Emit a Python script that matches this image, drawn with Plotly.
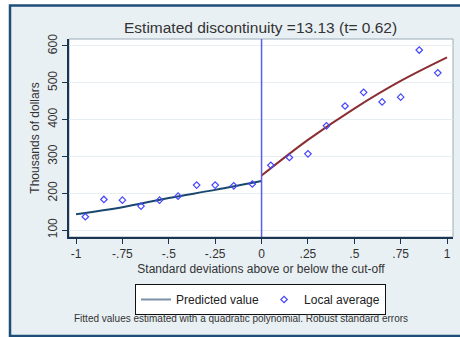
import plotly.graph_objects as go

# ---- data ----
bins_left = [-0.95, -0.85, -0.75, -0.65, -0.55, -0.45, -0.35, -0.25, -0.15, -0.05]
avg_left = [136, 183, 181, 165, 181, 192, 222, 222, 220, 225]
bins_right = [0.05, 0.15, 0.25, 0.35, 0.45, 0.55, 0.65, 0.75, 0.85, 0.95]
avg_right = [276, 297, 307, 383, 437, 474, 448, 461, 589, 527]

fit_x_left = [-1.0, -0.75, -0.5, -0.25, 0.0]
fit_y_left = [143, 162, 187, 209, 233]
fit_x_right = [0.0, 0.25, 0.5, 0.75, 1.0]
fit_y_right = [248, 345, 430, 505, 569]

cutoff = 0
x_tickvals = [-1, -0.75, -0.5, -0.25, 0, 0.25, 0.5, 0.75, 1]
x_ticktext = ["-1", "-.75", "-.5", "-.25", "0", ".25", ".5", ".75", "1"]
y_tickvals = [100, 200, 300, 400, 500, 600]

title_text = "Estimated discontinuity =13.13 (t= 0.62)"
note_text = "Fitted values estimated with a quadratic polynomial. Robust standard errors"

FONT = "Liberation Sans, Arial, sans-serif"
NAVY = "#1a476f"
MAROON = "#8b2e33"
MARK = "#4646ff"

fig = go.Figure()

fig.add_trace(go.Scatter(x=fit_x_left, y=fit_y_left, mode="lines", line=dict(color=NAVY, width=2, shape="spline"),
                         showlegend=False, hoverinfo="skip"))
fig.add_trace(go.Scatter(x=fit_x_right, y=fit_y_right, mode="lines", line=dict(color=MAROON, width=2, shape="spline"),
                         showlegend=False, hoverinfo="skip"))
fig.add_trace(go.Scatter(x=[None], y=[None], mode="lines", line=dict(color="#7a90a6", width=2),
                         name="Predicted value"))
fig.add_trace(go.Scatter(x=bins_left + bins_right, y=avg_left + avg_right, mode="markers",
                         marker=dict(symbol="diamond-open", size=5, color=MARK, line=dict(width=1.2, color=MARK)),
                         name="Local average"))

# vertical cut-off line
fig.add_shape(type="line", xref="x", yref="paper", x0=cutoff, x1=cutoff, y0=0, y1=1,
              line=dict(color="#5b5bf0", width=1.5), layer="above")

# plot area geometry in px
L, R, T, B = 69, 453, 39, 237
W, H = R - L, B - T
def px(x):
    return (x - L) / W
def py(y):
    return (B - y) / H

# outer frame
fig.add_shape(type="rect", xref="paper", yref="paper", x0=px(10), x1=px(470), y0=py(336), y1=py(5.5),
              fillcolor="#e9f0f3", line=dict(color="#1f4e79", width=2.5), layer="below")
# plot region
fig.add_shape(type="rect", xref="paper", yref="paper", x0=0, x1=1, y0=0, y1=1,
              fillcolor="white", line=dict(color="#9aabb9", width=1), layer="below")

fig.add_annotation(text=title_text, xref="paper", yref="paper", x=px(260), y=py(27), showarrow=False,
                   font=dict(family=FONT, size=15.5, color="#333333"), xanchor="center", yanchor="middle")
fig.add_annotation(text=note_text, xref="paper", yref="paper", x=px(240.5), y=py(318.5), showarrow=False,
                   font=dict(family=FONT, size=10, color="#333333"), xanchor="center", yanchor="middle")

fig.update_layout(
    width=460, height=337,
    margin=dict(l=L, r=460 - R, t=T, b=337 - B, autoexpand=False),
    paper_bgcolor="white", plot_bgcolor="white",
    font=dict(family=FONT, color="#333333"),
    showlegend=True,
    legend=dict(orientation="h", x=px(260.5), xanchor="center", y=py(284), yanchor="top",
                bgcolor="white", bordercolor="#111111", borderwidth=1, tracegroupgap=0,
                font=dict(family=FONT, size=12, color="#222222"), itemwidth=30),
    xaxis=dict(range=[-1.038, 1.032], tickvals=x_tickvals, ticktext=x_ticktext, showgrid=False,
               zeroline=False, showline=True, linecolor="#1a3550", linewidth=1.5, automargin=False,
               ticks="outside", ticklen=5, tickcolor="#1a3550", tickfont=dict(size=12, color="#333333"),
               title=dict(text="Standard deviations above or below the cut-off", font=dict(size=12, color="#333333"), standoff=4)),
    yaxis=dict(range=[81, 619], tickvals=y_tickvals, showgrid=True, gridcolor="#e6eef1", gridwidth=1,
               zeroline=False, showline=True, linecolor="#1a3550", linewidth=1.5, automargin=False,
               ticks="outside", ticklen=5, tickcolor="#1a3550", tickangle=-90,
               tickfont=dict(size=12, color="#333333"),
               title=dict(text="Thousands of dollars", font=dict(size=12, color="#333333"), standoff=4)),
)

fig.write_html("out.html", config={"displayModeBar": False},
               post_script="document.body.style.margin='0px';document.body.style.overflow='hidden';")
